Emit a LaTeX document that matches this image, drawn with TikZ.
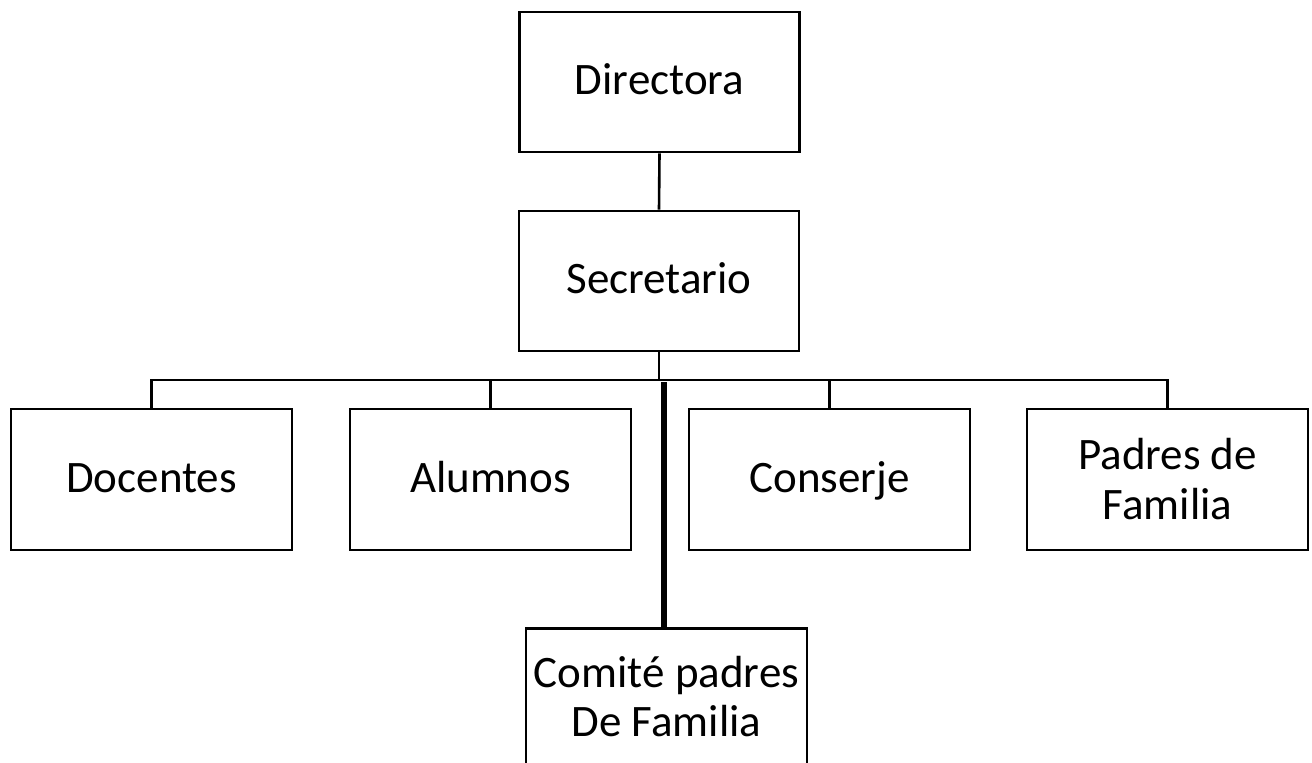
\documentclass[tikz,border=0pt]{standalone}
\usepackage{fontspec}
\setmainfont{Carlito}
\begin{document}
\begin{tikzpicture}[x=1pt,y=-1pt,
  orgbox/.style={draw,line width=2.6pt,minimum width=280pt,minimum height=140pt,align=center,inner sep=0pt,
    font=\fontsize{45}{50}\selectfont},
  onel/.style={text height=25pt,text depth=0pt},
  conn/.style={line width=2.6pt},
  thickconn/.style={line width=5.6pt}]
\useasboundingbox (0,0) rectangle (1312,763);
\clip (0,0) rectangle (1312,763);
\fill[white] (0,0) rectangle (1312,763);
\node[orgbox,onel] (dir) at (659.5,82) {Directora};
\node[orgbox,onel] (sec) at (659,281) {Secretario};
\node[orgbox,onel,minimum width=281pt,minimum height=141pt] (doc) at (151.5,479.5) {Docentes};
\node[orgbox,onel,minimum width=281pt,minimum height=141pt] (alu) at (490.5,479.5) {Alumnos};
\node[orgbox,onel,minimum width=281pt,minimum height=141pt] (con) at (829.5,479.5) {Conserje};
\node[orgbox,minimum width=281pt,minimum height=141pt] (pad) at (1167.5,479.5) {Padres de\\Familia};
\node[orgbox,minimum width=281pt,minimum height=150pt,anchor=north] (com) at (666.5,627) {};
\node[font=\fontsize{45}{49}\selectfont,align=center,inner sep=0pt] (comtxt) at (666.5,697) {Comité padres\\De Familia};
\coordinate (bus) at (0,380);
\coordinate (thk) at (664,382);
\draw[conn] (dir.south) -- (sec.north);
\draw[conn] (sec.south) -- (sec.south |- bus);
\draw[conn] (doc.north) -- (doc.north |- bus) -- (pad.north |- bus) -- (pad.north);
\draw[conn] (alu.north) -- (alu.north |- bus);
\draw[conn] (con.north) -- (con.north |- bus);
\draw[thickconn] (thk) -- (thk |- com.north);
\end{tikzpicture}
\end{document}
